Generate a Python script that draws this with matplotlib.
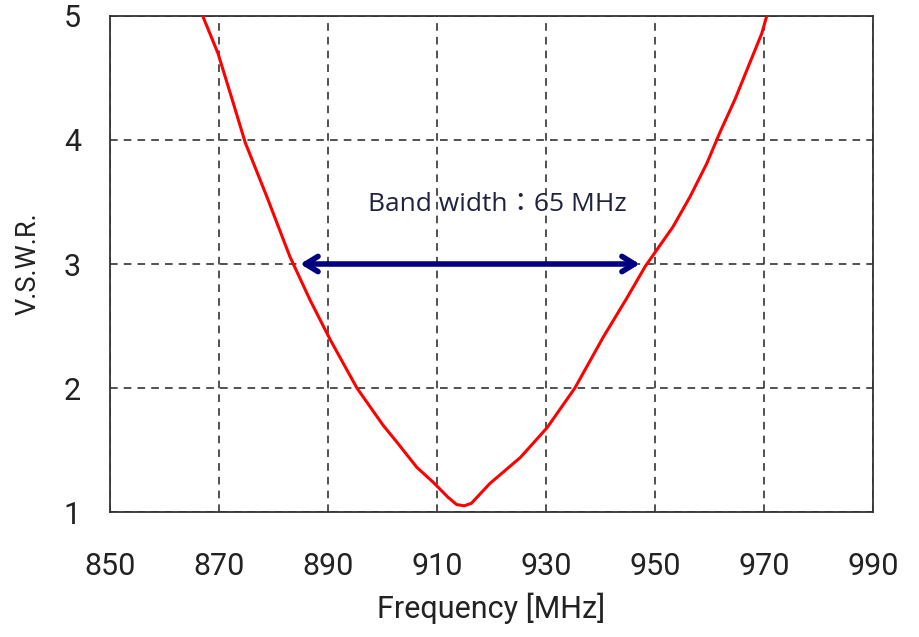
import matplotlib
matplotlib.use("Agg")
import matplotlib.pyplot as plt
import numpy as np

# VSWR curve
freq = [867.1, 869.8, 872.6, 874.8, 878.8, 883.0, 886.7, 890.4, 895.3, 900.1,
        902.7, 906.3, 909.3, 912.0, 913.6, 915.0, 916.3, 919.7, 925.3, 930.2,
        935.3, 940.5, 944.9, 948.2, 953.3, 956.4, 959.5, 961.9, 964.7, 967.1,
        969.6, 970.5]
vswr = [4.99, 4.70, 4.30, 3.98, 3.54, 3.06, 2.71, 2.39, 2.0, 1.70,
        1.56, 1.36, 1.24, 1.12, 1.06, 1.05, 1.07, 1.23, 1.44, 1.68,
        2.0, 2.41, 2.73, 2.98, 3.30, 3.54, 3.81, 4.06, 4.33, 4.59,
        4.86, 5.0]

x_ticks = [850, 870, 890, 910, 930, 950, 970, 990]
y_ticks = [1, 2, 3, 4, 5]

band_lo, band_hi, band_level = 884.9, 947.2, 3.0
band_text = "Band width\uff1a65 MHz"

fig = plt.figure(figsize=(9.2, 6.37), dpi=100)
ax = fig.add_axes([0.1196, 0.1962, 0.8293, 0.7787])

ax.plot(freq, vswr, color="red", lw=2.2, zorder=3)

ax.set_xlim(850, 990)
ax.set_ylim(1, 5)
ax.set_xticks(x_ticks)
ax.set_yticks(y_ticks)
ax.grid(True, color="#222222", ls=(0, (5, 4)), lw=1.1)
for s in ax.spines.values():
    s.set_color("#333333")
    s.set_linewidth(1.3)

fam = ["Roboto", "DejaVu Sans"]
ax.tick_params(length=0)
ax.tick_params(axis="x", pad=29)
ax.tick_params(axis="y", pad=21)
for lab in ax.get_xticklabels() + ax.get_yticklabels():
    lab.set_fontfamily(fam)
    lab.set_fontsize(22)
    lab.set_color("#222222")

ax.set_xlabel("Frequency [MHz]", fontsize=22, family=fam,
              color="#222222", labelpad=8)
ax.set_ylabel("V.S.W.R.", fontsize=19.5, family=fam,
              color="#222222", labelpad=16)

ax.annotate("", xy=(band_hi, band_level), xytext=(band_lo, band_level),
            arrowprops=dict(arrowstyle="<->,head_length=0.9,head_width=0.55",
                            color="#000080", lw=4, shrinkA=0, shrinkB=0),
            zorder=4)
# label sits a little right of the arrow centre in the original
ax.text(921.0, 3.48, band_text, ha="center", va="center",
        fontsize=19, color="#1f2240", family=["Open Sans", "Noto Sans CJK JP"])

fig.savefig("out.png", dpi=100)
